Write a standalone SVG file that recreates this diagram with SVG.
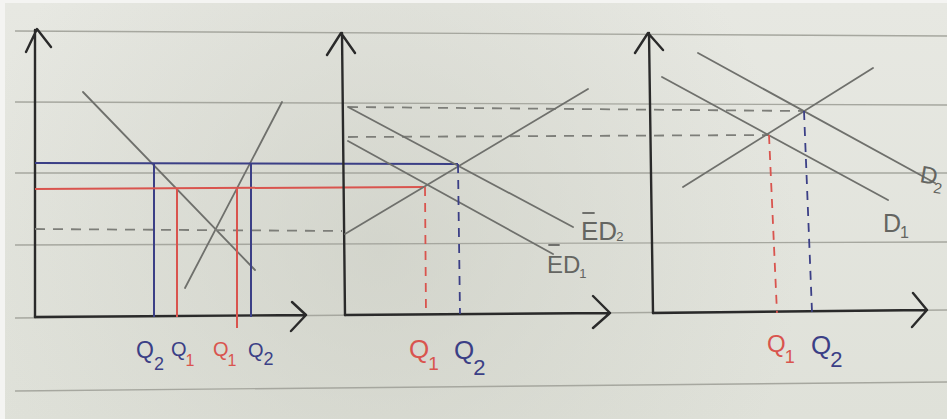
<svg xmlns="http://www.w3.org/2000/svg" width="947" height="419" viewBox="0 0 947 419">
<defs>
<radialGradient id="shade" cx="380" cy="250" r="420" gradientUnits="userSpaceOnUse">
<stop offset="0" stop-color="#c9cbc1" stop-opacity="0.6"/>
<stop offset="1" stop-color="#c9cbc1" stop-opacity="0"/>
</radialGradient>
<linearGradient id="paper" x1="0" y1="0" x2="0" y2="1">
<stop offset="0" stop-color="#e7e8e2"/>
<stop offset="1" stop-color="#dfe1d9"/>
</linearGradient>
</defs>
<style>
.rule{stroke:#a6a79f;stroke-width:1.4;fill:none}
.axis{stroke:#2a2a2a;stroke-width:2.4;fill:none;stroke-linecap:round;stroke-linejoin:round}
.curve{stroke:#6f706c;stroke-width:1.8;fill:none;stroke-linecap:round}
.dash{stroke:#7d7e79;stroke-width:1.8;fill:none;stroke-dasharray:10 8}
.blue{stroke:#3b3f86;stroke-width:2;fill:none}
.red{stroke:#d9544e;stroke-width:2;fill:none}
.bdash{stroke:#3b3f86;stroke-width:1.8;fill:none;stroke-dasharray:9 7}
.rdash{stroke:#d9544e;stroke-width:1.8;fill:none;stroke-dasharray:9 7}
text{font-family:"Liberation Sans","DejaVu Sans",sans-serif}
.bt{fill:#3b3f86}
.rt{fill:#d9544e}
.gt{fill:#646561}
</style>
<rect x="0" y="0" width="947" height="419" fill="#f4f4f2"/>
<rect x="5" y="3" width="942" height="416" fill="url(#paper)"/>
<rect x="5" y="3" width="942" height="416" fill="url(#shade)"/>
<g id="ruled">
<line class="rule" x1="15" y1="31" x2="947" y2="36"/>
<line class="rule" x1="15" y1="102" x2="947" y2="105"/>
<line class="rule" x1="15" y1="173" x2="947" y2="173"/>
<line class="rule" x1="15" y1="245" x2="947" y2="242"/>
<line class="rule" x1="15" y1="318" x2="947" y2="310"/>
<line class="rule" x1="15" y1="391" x2="947" y2="382"/>
</g>
<g id="panel1">
<path class="axis" d="M35,317 L35,30 M26,52 L37,29 L51,47"/>
<path class="axis" d="M35,317 L306,315 M292,302 L306,315 L291,331"/>
<line class="curve" x1="83" y1="92" x2="255" y2="270"/>
<line class="curve" x1="185" y1="288" x2="282" y2="102"/>
<line class="dash" x1="35" y1="229" x2="342" y2="231"/>
<line class="blue" x1="154" y1="163" x2="154" y2="317"/>
<line class="blue" x1="251" y1="163" x2="251" y2="317"/>
<line class="red" x1="177" y1="189" x2="177" y2="317"/>
<line class="red" x1="237" y1="189" x2="237" y2="328"/>
<text class="bt" x="136" y="358" font-size="23">Q<tspan dx="0" dy="12" font-size="18">2</tspan></text>
<text class="bt" x="171" y="356" font-size="20">Q<tspan class="rt" dx="-1" dy="10" font-size="16">1</tspan></text>
<text class="rt" x="213" y="356" font-size="20">Q<tspan dx="-1" dy="10" font-size="16">1</tspan></text>
<text class="bt" x="248" y="357" font-size="20">Q<tspan dx="0" dy="8" font-size="18">2</tspan></text>
</g>
<g id="connectors">
<line class="blue" x1="35" y1="163" x2="458" y2="164"/>
<line class="red" x1="35" y1="189" x2="425" y2="187"/>
<line class="dash" x1="348" y1="107" x2="803" y2="111"/>
<line class="dash" x1="348" y1="137" x2="768" y2="135"/>
</g>
<g id="panel2">
<path class="axis" d="M345,315 L342,33 M327,55 L341,33 L355,53"/>
<path class="axis" d="M345,315 L610,313 M593,296 L610,313 L593,328"/>
<line class="curve" x1="345" y1="234" x2="588" y2="89"/>
<line class="curve" x1="348" y1="107" x2="573" y2="227"/>
<line class="curve" x1="348" y1="141" x2="553" y2="254"/>
<line class="rdash" x1="425" y1="187" x2="426" y2="315"/>
<line class="bdash" x1="458" y1="164" x2="460" y2="314"/>
<line class="curve" x1="583" y1="213" x2="594" y2="213"/>
<text class="gt" x="581" y="240" font-size="26">ED<tspan dx="-1" dy="1" font-size="13">2</tspan></text>
<line class="curve" x1="549" y1="245" x2="559" y2="245"/>
<text class="gt" x="547" y="273" font-size="24">ED<tspan dx="-1" dy="5" font-size="13">1</tspan></text>
<text class="rt" x="409" y="358" font-size="26">Q<tspan dx="-1" dy="12" font-size="19">1</tspan></text>
<text class="bt" x="454" y="359" font-size="26">Q<tspan dx="-1" dy="16" font-size="22">2</tspan></text>
</g>
<g id="panel3">
<path class="axis" d="M653,313 L649,33 M635,53 L648,33 L663,50"/>
<path class="axis" d="M653,313 L927,310 M913,293 L927,310 L912,327"/>
<line class="curve" x1="683" y1="187" x2="873" y2="68"/>
<line class="curve" x1="662" y1="77" x2="888" y2="200"/>
<line class="curve" x1="698" y1="53" x2="935" y2="183"/>
<line class="rdash" x1="769" y1="135" x2="777" y2="313"/>
<line class="bdash" x1="804" y1="111" x2="812" y2="312"/>
<text class="gt" x="883" y="232" font-size="25">D<tspan dx="-1" dy="6" font-size="16">1</tspan></text>
<text class="gt" x="919" y="182" font-size="24" transform="rotate(10 919 182)">D<tspan dx="-2" dy="8" font-size="15">2</tspan></text>
<text class="rt" x="767" y="352" font-size="24">Q<tspan dx="-1" dy="11" font-size="18">1</tspan></text>
<text class="bt" x="811" y="354" font-size="26">Q<tspan dx="-1" dy="13" font-size="22">2</tspan></text>
</g>
</svg>
